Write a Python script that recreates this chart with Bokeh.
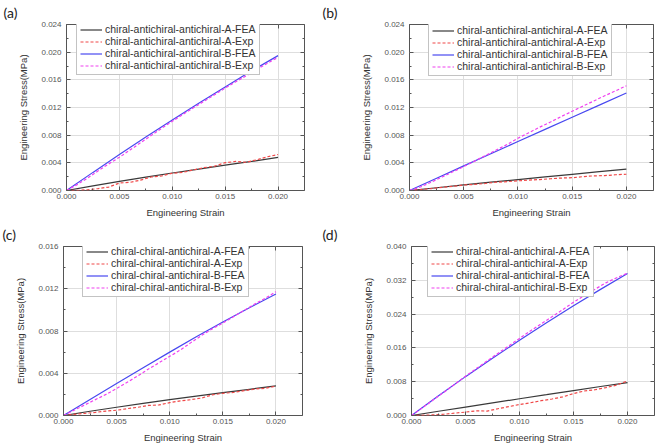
from bokeh.plotting import figure
from bokeh.layouts import column, row
from bokeh.models import (Range1d, FixedTicker, PrintfTickFormatter, Legend, LegendItem,
                          LinearAxis, CustomLabelingPolicy)
from bokeh.embed import file_html
from bokeh.resources import INLINE

# ---------------- data ----------------
x_fea = [0, 0.0025, 0.005, 0.0075, 0.010, 0.0125, 0.015, 0.0175, 0.020]
x_exp = [0, 0.001, 0.002, 0.003, 0.004, 0.005, 0.006, 0.007, 0.008, 0.009, 0.010,
         0.011, 0.012, 0.013, 0.014, 0.015, 0.016, 0.017, 0.018, 0.019, 0.020]
x_ticks = [0, 0.005, 0.010, 0.015, 0.020]

# (a)
a_A_fea = [0, 0.00068, 0.00132, 0.00194, 0.00253, 0.00310, 0.00366, 0.00420, 0.00478]
a_B_fea = [0, 0.00262, 0.00520, 0.00772, 0.01020, 0.01262, 0.01498, 0.01730, 0.01950]
a_A_exp = [0, 0.00002, 0.00010, 0.00028, 0.00050, 0.00108, 0.00118, 0.00150, 0.00195, 0.00210, 0.00250,
           0.00262, 0.00298, 0.00330, 0.00352, 0.00402, 0.00420, 0.00408, 0.00445, 0.00488, 0.00520]
a_B_exp = [0, 0.00085, 0.00180, 0.00285, 0.00385, 0.00480, 0.00585, 0.00690, 0.00795, 0.00900, 0.01000,
           0.01100, 0.01195, 0.01290, 0.01385, 0.01480, 0.01572, 0.01660, 0.01750, 0.01840, 0.01925]
# (b)
b_A_fea = [0, 0.00040, 0.00080, 0.00120, 0.00158, 0.00196, 0.00234, 0.00272, 0.00310]
b_B_fea = [0, 0.00178, 0.00356, 0.00532, 0.00708, 0.00884, 0.01060, 0.01235, 0.01410]
b_A_exp = [0, 0.00012, 0.00028, 0.00045, 0.00060, 0.00080, 0.00088, 0.00102, 0.00120, 0.00128, 0.00140,
           0.00150, 0.00158, 0.00170, 0.00180, 0.00185, 0.00200, 0.00212, 0.00215, 0.00228, 0.00235]
b_B_exp = [0, 0.00050, 0.00120, 0.00195, 0.00270, 0.00345, 0.00425, 0.00505, 0.00585, 0.00665, 0.00755,
           0.00835, 0.00915, 0.00990, 0.01070, 0.01145, 0.01220, 0.01295, 0.01370, 0.01440, 0.01515]
# (c)
c_A_fea = [0, 0.00040, 0.00078, 0.00114, 0.00150, 0.00184, 0.00216, 0.00248, 0.00280]
c_B_fea = [0, 0.00152, 0.00302, 0.00452, 0.00600, 0.00745, 0.00885, 0.01020, 0.01150]
c_A_exp = [0, 0.00010, 0.00020, 0.00030, 0.00042, 0.00050, 0.00065, 0.00078, 0.00095, 0.00100, 0.00122,
           0.00138, 0.00150, 0.00165, 0.00195, 0.00210, 0.00218, 0.00235, 0.00250, 0.00258, 0.00278]
c_B_exp = [0, 0.00050, 0.00100, 0.00150, 0.00200, 0.00255, 0.00315, 0.00375, 0.00440, 0.00500, 0.00560,
           0.00620, 0.00690, 0.00758, 0.00820, 0.00875, 0.00935, 0.00995, 0.01055, 0.01110, 0.01172]
# (d)
d_A_fea = [0, 0.00100, 0.00200, 0.00298, 0.00396, 0.00492, 0.00590, 0.00686, 0.00780]
d_B_fea = [0, 0.00465, 0.00920, 0.01355, 0.01780, 0.02195, 0.02600, 0.02985, 0.03360]
d_A_exp = [0, 0.00005, 0.00015, 0.00030, 0.00055, 0.00080, 0.00110, 0.00105, 0.00160, 0.00210, 0.00260,
           0.00300, 0.00350, 0.00390, 0.00440, 0.00520, 0.00580, 0.00610, 0.00660, 0.00720, 0.00820]
d_B_exp = [0, 0.00180, 0.00365, 0.00550, 0.00740, 0.00930, 0.01110, 0.01290, 0.01470, 0.01645, 0.01825,
           0.02000, 0.02170, 0.02335, 0.02505, 0.02680, 0.02840, 0.02990, 0.03140, 0.03260, 0.03370]

labels_ab = ["chiral-antichiral-antichiral-A-FEA", "chiral-antichiral-antichiral-A-Exp",
             "chiral-antichiral-antichiral-B-FEA", "chiral-antichiral-antichiral-B-Exp"]
labels_cd = ["chiral-chiral-antichiral-A-FEA", "chiral-chiral-antichiral-A-Exp",
             "chiral-chiral-antichiral-B-FEA", "chiral-chiral-antichiral-B-Exp"]

FONT = "Liberation Sans"
C_AF, C_AE, C_BF, C_BE = "#3a3a3a", "#f04848", "#4848f0", "#f040f0"

HIDE_JS = "for (const i of Array.from(indices)) { indices.unset(i) }\nreturn indices"


def panel(tag, A_fea, A_exp, B_fea, B_exp, labels, y_max, y_step,
          w, h, bl, br, bt, bb, leg_x, leg_gap, tag_x):
    p = figure(width=w, height=h, output_backend="svg", toolbar_location=None,
               title=tag,
               x_range=Range1d(0, 0.0225), y_range=Range1d(0, y_max),
               min_border_left=bl, min_border_right=br, min_border_top=bt,
               min_border_bottom=bb, background_fill_color="white",
               border_fill_color="white")
    p.title.align = "left"
    p.title.offset = tag_x - bl
    p.title.standoff = 0
    p.title.text_font = "Lato"
    p.title.text_font_size = "14px"
    p.title.text_font_style = "normal"
    p.title.text_color = "#222222"

    p.outline_line_color = "#555555"
    p.outline_line_width = 1
    yt = [i * y_step for i in range(int(round(y_max / y_step)) + 1)]
    ymin = [yt[i] + y_step / 2 for i in range(len(yt) - 1)]
    xmin = [0.0025, 0.0075, 0.0125, 0.0175]
    p.add_layout(LinearAxis(), "right")
    p.add_layout(LinearAxis(), "above")
    for ax in p.xaxis:
        ax.ticker = FixedTicker(ticks=x_ticks, minor_ticks=xmin)
    for ax in p.yaxis:
        ax.ticker = FixedTicker(ticks=yt, minor_ticks=ymin)
    for ax in list(p.xaxis) + list(p.yaxis):
        ax.formatter = PrintfTickFormatter(format="%.3f")
        ax.axis_line_color = None
        ax.major_tick_in = 4
        ax.major_tick_out = 0
        ax.minor_tick_in = 2
        ax.minor_tick_out = 0
        ax.major_tick_line_color = "#555555"
        ax.minor_tick_line_color = "#555555"
        ax.major_label_text_font = FONT
        ax.major_label_text_font_size = "8px"
        ax.major_label_text_color = "#555555"
        ax.axis_label_text_font = FONT
        ax.axis_label_text_font_size = "9.5px"
        ax.axis_label_text_font_style = "normal"
        ax.axis_label_text_color = "#333333"
    p.below[0].major_label_standoff = 3
    p.below[0].axis_label_standoff = 5
    p.left[0].major_label_standoff = 5
    p.left[0].axis_label_standoff = 9
    for ax in (p.right[0], p.above[0]):
        ax.major_label_policy = CustomLabelingPolicy(code=HIDE_JS)
        ax.major_label_text_font_size = "1px"
        ax.major_label_standoff = 0
        ax.axis_label_standoff = 0
    p.below[0].axis_label = "Engineering Strain"
    p.left[0].axis_label = "Engineering Stress(MPa)"
    p.xgrid.ticker = FixedTicker(ticks=x_ticks)
    p.ygrid.ticker = FixedTicker(ticks=yt)
    p.grid.grid_line_color = "#dedede"
    p.grid.grid_line_width = 1

    r1 = p.line(x_fea, A_fea, line_color=C_AF, line_width=1.2)
    r2 = p.line(x_exp, A_exp, line_color=C_AE, line_width=1.2, line_dash="3 2")
    r3 = p.line(x_fea, B_fea, line_color=C_BF, line_width=1.2)
    r4 = p.line(x_exp, B_exp, line_color=C_BE, line_width=1.2, line_dash="3 2")
    leg = Legend(items=[LegendItem(label=l, renderers=[r]) for l, r in zip(labels, [r1, r2, r3, r4])],
                 margin=0, padding=3, spacing=0,
                 label_text_font=FONT, label_text_font_size="10.5px",
                 label_text_color="#333333", glyph_width=22, glyph_height=11,
                 label_height=11, label_standoff=3,
                 border_line_color="#888888", border_line_width=1,
                 background_fill_alpha=1.0)
    frame_h = h - bt - bb
    leg_h = 4 * 11 + 2 * 3
    leg.location = (leg_x, frame_h - leg_gap - leg_h)
    p.add_layout(leg, "center")
    return p


pa = panel("(a)", a_A_fea, a_A_exp, a_B_fea, a_B_exp, labels_ab, 0.024, 0.004,
           320, 222, 66, 16, 24, 32, 10, 1, 3)
pb = panel("(b)", b_A_fea, b_A_exp, b_B_fea, b_B_exp, labels_ab, 0.024, 0.004,
           340, 222, 89, 7, 24, 32, 19, 2, 2)
pc = panel("(c)", c_A_fea, c_A_exp, c_B_fea, c_B_exp, labels_cd, 0.016, 0.004,
           320, 223, 63, 18, 24, 30, 19, 1, 2)
pd = panel("(d)", d_A_fea, d_A_exp, d_B_fea, d_B_exp, labels_cd, 0.040, 0.008,
           340, 223, 91, 5, 24, 30, 16, 1, 2)

layout = column(row(pa, pb), row(pc, pd))
open("out.html", "w").write(file_html(layout, INLINE))
